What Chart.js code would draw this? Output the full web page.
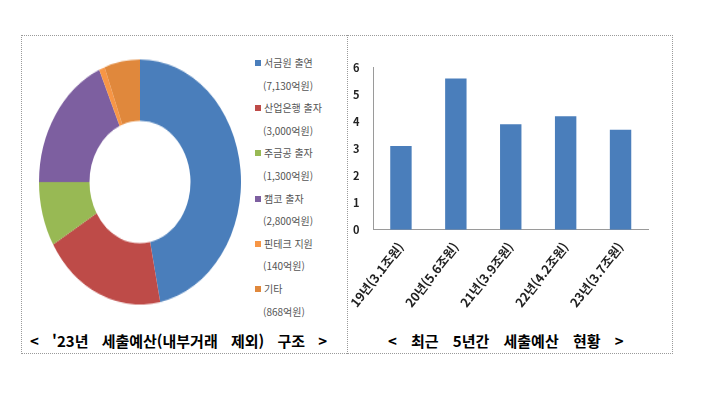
<!DOCTYPE html>
<html lang="ko">
<head>
<meta charset="utf-8">
<script src="https://cdn.jsdelivr.net/npm/chart.js@4"></script>
<style>
  body { margin: 0; width: 720px; height: 394px; background: #fff; position: relative; overflow: hidden;
         font-family: "Noto Sans CJK KR", "Noto Sans", sans-serif; }
  .frame { position: absolute; left: 21px; top: 35px; width: 652px; height: 319px; border: 1px dotted #9a9a9a; box-sizing: border-box; }
  .divider { position: absolute; left: 347px; top: 35px; width: 0; height: 319px; border-left: 1px dotted #9a9a9a; }
  #pieBox { position: absolute; left: 39px; top: 81px; width: 202px; height: 202px; transform: scaleY(1.213); transform-origin: 50% 50%; }
  #barBox { position: absolute; left: 347px; top: 55px; width: 315px; height: 257px; }
  #legend { position: absolute; left: 255px; top: 52px; font-size: 10px; color: #555; line-height: 22.6px; }
  #legend .sq { display: inline-block; width: 6px; height: 6px; margin-right: 3px; vertical-align: 1px; }
  #legend .amt { padding-left: 8px; }
  .caption { position: absolute; top: 330px; font-size: 15px; font-weight: bold; color: #000; white-space: pre; line-height: 22px; }
</style>
</head>
<body>
<div class="frame"></div>
<div class="divider"></div>
<div id="pieBox"><canvas id="pie"></canvas></div>
<div id="legend"></div>
<div id="barBox"><canvas id="bar"></canvas></div>
<div class="caption" style="left:30px; word-spacing:9px;">&lt; '23년 세출예산(내부거래 제외) 구조 &gt;</div>
<div class="caption" style="left:388px; word-spacing:10px;">&lt; 최근 5년간 세출예산 현황 &gt;</div>

<script>
// left: '23 budget structure (억원)
const pieLabels = ['서금원 출연', '산업은행 출자', '주금공 출자', '캠코 출자', '핀테크 지원', '기타'];
const pieAmountText = ['(7,130억원)', '(3,000억원)', '(1,300억원)', '(2,800억원)', '(140억원)', '(868억원)'];
const pieValues = [7130, 3000, 1300, 2800, 140, 868];
const pieColors = ['#4a7ebb', '#be4b48', '#98b954', '#7d5fa0', '#f79646', '#e0883c'];

// right: last 5 years (조원)
const barLabels = ['19년(3.1조원)', '20년(5.6조원)', '21년(3.9조원)', '22년(4.2조원)', '23년(3.7조원)'];
const barValues = [3.1, 5.6, 3.9, 4.2, 3.7];
const yTicks = [0, 1, 2, 3, 4, 5, 6];

Chart.defaults.font.family = '"Noto Sans CJK KR", "Noto Sans", sans-serif';
Chart.defaults.animation = false;

// html legend built from the arrays
let html = '';
pieLabels.forEach(function(lbl, i) {
    html += '<div><span class="sq" style="background:' + pieColors[i] + '"></span>' + lbl + '</div>';
    html += '<div class="amt">' + pieAmountText[i] + '</div>';
});
document.getElementById('legend').innerHTML = html;

new Chart(document.getElementById('pie'), {
    type: 'doughnut',
    data: {
        labels: pieLabels,
        datasets: [{
            data: pieValues,
            backgroundColor: pieColors,
            borderWidth: 0
        }]
    },
    options: {
        responsive: true,
        maintainAspectRatio: false,
        cutout: '50%',
        layout: { padding: 0 },
        plugins: { legend: { display: false }, tooltip: { enabled: false } }
    }
});

new Chart(document.getElementById('bar'), {
    type: 'bar',
    data: {
        labels: barLabels,
        datasets: [{
            data: barValues,
            backgroundColor: '#4a7ebb',
            barPercentage: 0.39,
            categoryPercentage: 1
        }]
    },
    options: {
        responsive: true,
        maintainAspectRatio: false,
        layout: { padding: { left: 0, right: 14, top: 0, bottom: 0 } },
        plugins: { legend: { display: false }, tooltip: { enabled: false } },
        scales: {
            x: {
                grid: { display: false },
                border: { display: true, color: '#9a9a9a' },
                ticks: {
                    color: '#222',
                    font: { size: 12.5, weight: 'bold' },
                    minRotation: 52,
                    maxRotation: 52,
                    padding: 2
                }
            },
            y: {
                min: 0,
                max: 6,
                grid: { display: false },
                border: { display: true, color: '#9a9a9a' },
                afterBuildTicks: function(axis) {
                    axis.ticks = yTicks.map(function(v) { return { value: v }; });
                },
                ticks: {
                    color: '#222',
                    font: { size: 11, weight: 'bold' },
                    padding: 6
                }
            }
        }
    }
});
</script>
</body>
</html>
